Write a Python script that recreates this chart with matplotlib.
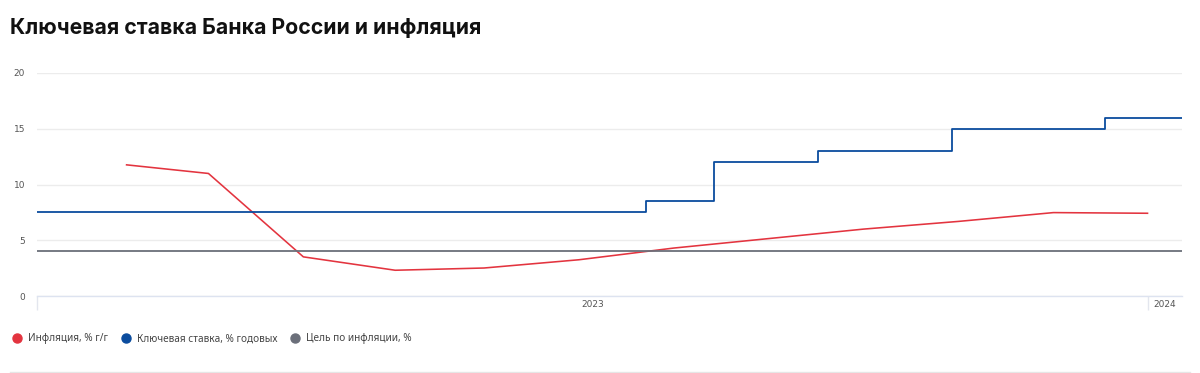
import matplotlib.pyplot as plt
import matplotlib.dates as mdates
from matplotlib.lines import Line2D
import pandas as pd

# --- data ---
infl_dates = ["2023-02-01", "2023-02-28", "2023-03-31", "2023-04-30", "2023-05-29", "2023-06-29",
              "2023-07-30", "2023-08-30", "2023-09-30", "2023-10-31", "2023-12-01", "2024-01-01"]
infl_values = [11.77, 10.99, 3.51, 2.31, 2.51, 3.25, 4.30, 5.15, 6.00, 6.69, 7.48, 7.42]

rate_dates = ["2023-01-03", "2023-07-21", "2023-08-12", "2023-09-15", "2023-10-29", "2023-12-18", "2024-01-12"]
rate_values = [7.5, 8.5, 12.0, 13.0, 15.0, 16.0, 16.0]

target_value = 4.0
x_start, x_end = "2023-01-03", "2024-01-12"
year_labels = ["2023", "2024"]

title = "Ключевая ставка Банка России и инфляция"
labels = ["Инфляция, % г/г", "Ключевая ставка, % годовых", "Цель по инфляции, %"]
colors = ["#e3343f", "#0b4c9e", "#6b6f7a"]

infl_x = pd.to_datetime(infl_dates)
rate_x = pd.to_datetime(rate_dates)
x0, x1 = pd.Timestamp(x_start), pd.Timestamp(x_end)
ny = pd.Timestamp("2024-01-01")

fig = plt.figure(figsize=(12, 3.73), dpi=100)
ax = fig.add_axes([37 / 1200, 77 / 373, (1182 - 37) / 1200, (296 - 73) / 373])

ax.plot(infl_x, infl_values, color=colors[0], lw=1.15, solid_capstyle="butt")
ax.step(rate_x, rate_values, where="post", color=colors[1], lw=1.3)
ax.plot([x0, x1], [target_value, target_value], color=colors[2], lw=1.3)

ax.set_xlim(x0, x1)
ax.set_ylim(0, 20)
ax.set_yticks([0, 5, 10, 15, 20])
ax.grid(axis="y", color="#ececec", lw=1)
ax.set_axisbelow(True)
ax.tick_params(axis="y", length=0, pad=8.5, labelsize=6.5, labelcolor="#555555")

for s in ["top", "right", "left"]:
    ax.spines[s].set_visible(False)
ax.spines["bottom"].set_color("#dde3f0")
ax.spines["bottom"].set_linewidth(1)

# year bands: tick lines at band edges, labels centered in bands
ax.set_xticks([mdates.date2num(x0), mdates.date2num(ny)])
ax.set_xticklabels(["", ""])
ax.tick_params(axis="x", which="major", length=10, color="#e3e6ee", width=1)
centers = [(mdates.date2num(x0) + mdates.date2num(ny)) / 2, (mdates.date2num(ny) + mdates.date2num(x1)) / 2]
ax.set_xticks(centers, minor=True)
ax.set_xticklabels(year_labels, minor=True, fontsize=6.5, color="#555555")
ax.tick_params(axis="x", which="minor", length=0, pad=3)

fig.text(10 / 1200, 1 - 28 / 373, title, fontsize=15.3, fontweight="bold", family="Inter",
         va="center", ha="left", color="#111111")

# legend
handles = [Line2D([], [], ls="", marker="o", ms=6.5, color=c) for c in colors]
fig.legend(handles, labels, loc="center left", bbox_to_anchor=(5 / 1200, 1 - 339 / 373), ncol=3,
           frameon=False, handlelength=0.6, handletextpad=0.85, columnspacing=1.4,
           prop={"family": "Noto Sans", "size": 7.2}, labelcolor="#444444")

fig.add_artist(Line2D([10 / 1200, 1190 / 1200], [1 - 372 / 373] * 2, color="#e6e6e6", lw=1,
                      transform=fig.transFigure))

fig.savefig("out.png", dpi=100)
